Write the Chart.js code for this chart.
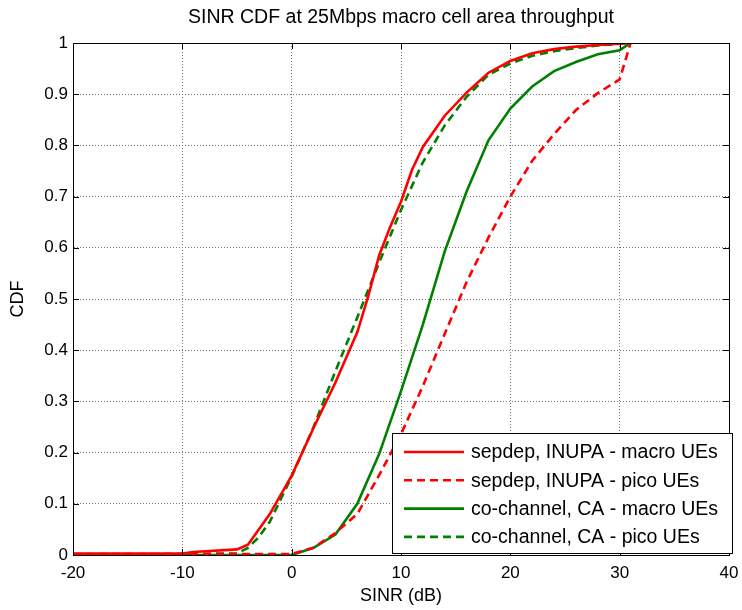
<!DOCTYPE html>
<html>
<head>
<meta charset="utf-8">
<title>SINR CDF</title>
<script src="https://cdn.jsdelivr.net/npm/chart.js@4/dist/chart.umd.min.js"></script>
<style>
  html, body { margin: 0; padding: 0; background: #fff; }
  canvas { display: block; }
</style>
</head>
<body>
<canvas id="cdfChart" width="742" height="610"></canvas>
<script>
// SINR (dB) sample points and CDF values for each scheme
let sepMacroX = [-20, -10, -9, -5, -4, -2, 0, 2, 4, 6, 7, 8, 9, 10, 11, 12, 14, 16, 18, 20, 22, 24, 26, 28, 31];
let sepMacroY = [0.003, 0.003, 0.006, 0.011, 0.02, 0.08, 0.155, 0.248, 0.337, 0.435, 0.505, 0.585, 0.64, 0.69, 0.752, 0.797, 0.858, 0.903, 0.942, 0.965, 0.98, 0.988, 0.993, 0.996, 1.0];

let sepPicoX = [-20, 0, 2, 4, 6, 8, 10, 12, 14, 16, 18, 20, 22, 24, 26, 28, 30, 31];
let sepPicoY = [0.002, 0.002, 0.014, 0.043, 0.08, 0.156, 0.236, 0.33, 0.432, 0.533, 0.62, 0.70, 0.77, 0.822, 0.869, 0.902, 0.929, 1.0];

let coMacroX = [-20, 0, 2, 4, 6, 8, 10, 12, 14, 16, 18, 20, 22, 24, 26, 28, 30, 31];
let coMacroY = [0, 0, 0.014, 0.04, 0.1, 0.197, 0.32, 0.45, 0.593, 0.71, 0.81, 0.872, 0.915, 0.945, 0.963, 0.978, 0.986, 1.0];

let coPicoX = [-20, -5, -4, -3, -2, 0, 2, 4, 6, 8, 10, 12, 14, 16, 18, 20, 22, 24, 26, 28, 31];
let coPicoY = [0, 0.003, 0.014, 0.035, 0.065, 0.153, 0.25, 0.359, 0.464, 0.571, 0.674, 0.767, 0.839, 0.895, 0.938, 0.96, 0.975, 0.984, 0.99, 0.995, 1.0];

let xTicks = [-20, -10, 0, 10, 20, 30, 40];
let yTicks = [0, 0.1, 0.2, 0.3, 0.4, 0.5, 0.6, 0.7, 0.8, 0.9, 1];

const RED = "#ff0000";
const GREEN = "#008000";
const FONT = "'Liberation Sans', Arial, sans-serif";

function toPoints(xs, ys) {
  return xs.map((x, i) => ({ x: x, y: ys[i] }));
}

function lineSet(label, xs, ys, color, dashed) {
  return {
    label: label,
    data: toPoints(xs, ys),
    borderColor: color,
    backgroundColor: color,
    borderWidth: 2.6,
    borderDash: dashed ? [8, 5] : [],
    pointRadius: 0,
    tension: 0,
    fill: false,
  };
}

// box, inside ticks, title and legend the way the old plots look
const framePlugin = {
  id: "frame",
  afterDatasetsDraw(chart) {
    const ctx = chart.ctx;
    const a = chart.chartArea;
    const xs = chart.scales.x;
    const ys = chart.scales.y;
    ctx.save();
    ctx.strokeStyle = "#000";
    ctx.lineWidth = 1;
    ctx.setLineDash([]);
    ctx.strokeRect(a.left + 0.5, a.top + 0.5, a.right - a.left, a.bottom - a.top);

    ctx.beginPath();
    xTicks.forEach((v) => {
      const px = Math.round(xs.getPixelForValue(v)) + 0.5;
      ctx.moveTo(px, a.bottom);
      ctx.lineTo(px, a.bottom - 6);
      ctx.moveTo(px, a.top);
      ctx.lineTo(px, a.top + 6);
    });
    yTicks.forEach((v) => {
      const py = Math.round(ys.getPixelForValue(v)) + 0.5;
      ctx.moveTo(a.left, py);
      ctx.lineTo(a.left + 6, py);
      ctx.moveTo(a.right, py);
      ctx.lineTo(a.right - 6, py);
    });
    ctx.stroke();

    // title centred over the axes
    ctx.fillStyle = "#000";
    ctx.font = "19.5px " + FONT;
    ctx.textAlign = "center";
    ctx.textBaseline = "middle";
    ctx.fillText("SINR CDF at 25Mbps macro cell area throughput", (a.left + a.right) / 2, 18);

    // legend in the lower right corner
    const boxW = 340;
    const boxH = 120;
    const bx = a.right + 3 - boxW;
    const by = a.bottom - 2 - boxH;
    ctx.fillStyle = "#fff";
    ctx.fillRect(bx, by, boxW, boxH);
    ctx.strokeStyle = "#000";
    ctx.strokeRect(bx + 0.5, by + 0.5, boxW, boxH);

    ctx.font = "19.5px " + FONT;
    ctx.textAlign = "left";
    chart.data.datasets.forEach((ds, i) => {
      const rowY = by + 19 + i * 28.3;
      ctx.strokeStyle = ds.borderColor;
      ctx.lineWidth = ds.borderWidth;
      ctx.setLineDash(ds.borderDash);
      ctx.beginPath();
      ctx.moveTo(bx + 12, rowY);
      ctx.lineTo(bx + 72, rowY);
      ctx.stroke();
      ctx.fillStyle = "#000";
      ctx.fillText(ds.label, bx + 79, rowY + 1);
    });
    ctx.restore();
  },
};

const ctx = document.getElementById("cdfChart");

new Chart(ctx, {
  type: "line",
  data: {
    datasets: [
      lineSet("sepdep, INUPA - macro UEs", sepMacroX, sepMacroY, RED, false),
      lineSet("sepdep, INUPA - pico UEs", sepPicoX, sepPicoY, RED, true),
      lineSet("co-channel, CA - macro UEs", coMacroX, coMacroY, GREEN, false),
      lineSet("co-channel, CA - pico UEs", coPicoX, coPicoY, GREEN, true),
    ],
  },
  options: {
    responsive: false,
    animation: false,
    devicePixelRatio: 1,
    layout: { padding: { top: 43, right: 13, left: 0, bottom: 0 } },
    plugins: {
      legend: { display: false },
      title: { display: false },
      tooltip: { enabled: false },
    },
    scales: {
      x: {
        type: "linear",
        min: -20,
        max: 40,
        afterBuildTicks: (scale) => {
          scale.ticks = xTicks.map((v) => ({ value: v }));
        },
        afterFit: (scale) => {
          scale.height = 55;
          scale.paddingRight = 0;
        },
        ticks: {
          color: "#000",
          font: { size: 17, family: FONT },
          padding: 8,
          maxRotation: 0,
        },
        grid: { color: "#767676", drawTicks: false },
        border: { color: "#000", dash: [1, 2] },
        title: {
          display: true,
          text: "SINR (dB)",
          color: "#000",
          font: { size: 18, family: FONT },
          padding: { top: 0, bottom: 3 },
        },
      },
      y: {
        type: "linear",
        min: 0,
        max: 1,
        afterBuildTicks: (scale) => {
          scale.ticks = yTicks.map((v) => ({ value: v }));
        },
        afterFit: (scale) => {
          scale.width = 73;
        },
        ticks: {
          color: "#000",
          font: { size: 17, family: FONT },
          padding: 5,
          callback: (v) => String(Math.round(v * 10) / 10),
        },
        grid: { color: "#767676", drawTicks: false },
        border: { color: "#000", dash: [1, 2] },
        title: {
          display: true,
          text: "CDF",
          color: "#000",
          font: { size: 18, family: FONT },
          padding: { top: 7, bottom: 0 },
        },
      },
    },
  },
  plugins: [framePlugin],
});
</script>
</body>
</html>
